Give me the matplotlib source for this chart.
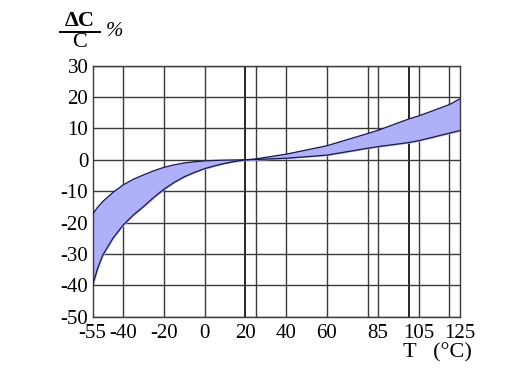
import numpy as np
import matplotlib.pyplot as plt

# температурна характеристика ємності, % від значення при 20 °C
temp = [-55, -52.5, -50, -45, -40, -35, -30, -25, -20, -15, -10, -5, 0, 5, 10, 15, 20,
        25, 40, 60, 80, 85, 100, 105, 120, 125]
upper = [-17.4, -15.1, -13.3, -10.4, -8.0, -6.2, -4.8, -3.5, -2.4, -1.6, -1.0, -0.6, -0.35, -0.2, -0.1, -0.05, 0.0,
         0.3, 1.8, 4.5, 8.4, 9.4, 13.0, 14.0, 17.6, 19.4]
lower = [-40.0, -34.6, -30.4, -25.0, -20.8, -17.6, -14.9, -12.0, -9.4, -7.2, -5.4, -4.0, -2.8, -1.9, -1.1, -0.5, 0.0,
         0.1, 0.5, 1.5, 3.7, 4.2, 5.5, 6.1, 8.5, 9.3]

x_ticks = [-55, -40, -20, 0, 20, 40, 60, 85, 105, 125]
x_grid = [-40, -20, 0, 25, 40, 60, 80, 85, 105, 120]
x_grid_bold = [20, 100]
y_ticks = [-50, -40, -30, -20, -10, 0, 10, 20, 30]

plt.rcParams['font.family'] = ['Liberation Serif', 'DejaVu Serif']

fig = plt.figure(figsize=(5.12, 3.71), dpi=100)
ax = fig.add_axes([0.1807, 0.1464, 0.7168, 0.6765])

for xv in x_grid:
    ax.axvline(xv, color='#3a3a3a', lw=1.0, zorder=1)
for xv in x_grid_bold:
    ax.axvline(xv, color='black', lw=1.2, zorder=1)
for yv in y_ticks:
    ax.axhline(yv, color='#3a3a3a', lw=1.0, zorder=1)

ax.fill_between(temp, lower, upper, color='#b0b0f8', zorder=2)
ax.plot(temp, upper, color='#1a1a4a', lw=0.9, zorder=3)
ax.plot(temp, lower, color='#1a1a4a', lw=0.9, zorder=3)

ax.set_xlim(-55, 125)
ax.set_ylim(-50, 30)
ax.set_xticks(x_ticks)
ax.set_xticklabels([str(v) for v in x_ticks])
ax.set_yticks(y_ticks)
ax.set_yticklabels([str(v) for v in y_ticks])
ax.tick_params(length=0, labelsize=15)
ax.tick_params(axis='x', pad=5)
ax.tick_params(axis='y', pad=3)
for s in ax.spines.values():
    s.set_color('#3a3a3a')
    s.set_linewidth(1.0)

fig.text(0.787, 0.048, 'T   (°C)', fontsize=16, ha='left', va='center')
fig.text(0.156, 0.943, 'ΔC', fontsize=16, fontweight='bold', ha='center', va='center')
fig.add_artist(plt.Line2D([0.117, 0.195], [0.914, 0.914], color='black', lw=1.4))
fig.text(0.156, 0.885, 'C', fontsize=16, ha='center', va='center')
fig.text(0.223, 0.914, '%', fontsize=15, style='italic', ha='center', va='center')

plt.savefig('out.png', dpi=100)
